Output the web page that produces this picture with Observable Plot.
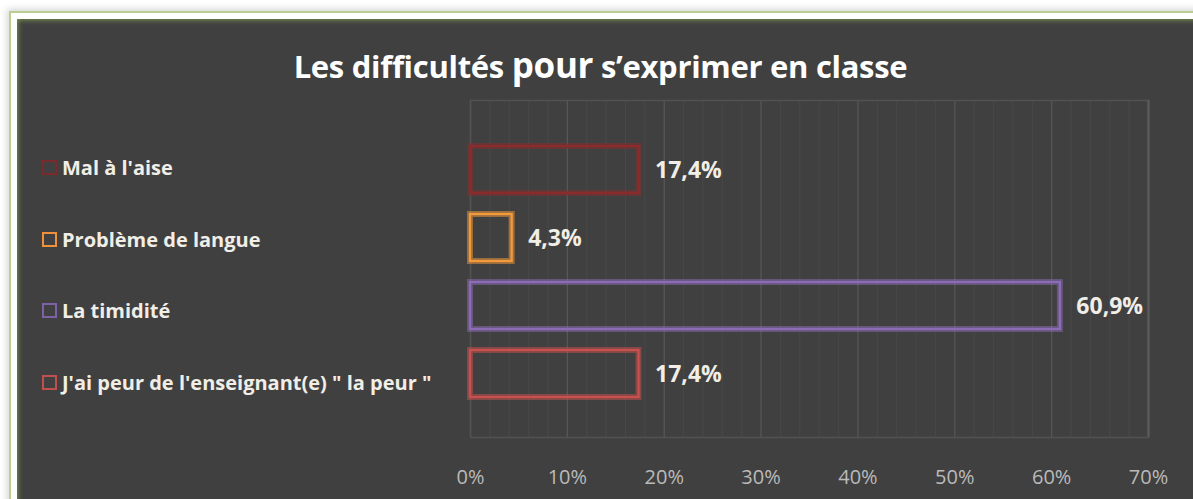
<!DOCTYPE html>
<html><head><meta charset="utf-8">
<script src="https://cdn.jsdelivr.net/npm/d3@7"></script>
<script src="https://cdn.jsdelivr.net/npm/@observablehq/plot@0.6"></script>
<style>
html,body{margin:0;padding:0;background:#fff;overflow:hidden;}
#page{position:relative;width:1193px;height:499px;overflow:hidden;background:#fff;}
#frame{position:absolute;left:11px;top:13px;width:1200px;height:520px;background:#404040;border:6px solid #fff;box-shadow:0 0 0 2px #bccf92,0 0 7px 4px #d6d6d6;}
#inner{position:absolute;left:17px;top:19px;width:1200px;height:520px;box-shadow:inset 0 0 5px 1px #7d9450;}
#title{position:absolute;left:4px;top:45px;width:1193px;text-align:center;font-family:'Open Sans',sans-serif;font-weight:bold;font-size:31px;line-height:40px;color:#fff;white-space:nowrap;letter-spacing:-0.3px;}
#title .big{font-size:35px;}
.leg{position:absolute;left:42px;height:20px;display:flex;align-items:center;font-family:'Open Sans',sans-serif;font-weight:bold;font-size:20px;color:#f0eee6;white-space:nowrap;}
.leg .sw{width:11px;height:11px;border:2px solid;margin-right:5px;flex:none;}
#chart{position:absolute;left:0;top:90px;}
</style></head>
<body><div id="page"><div id="frame"></div><div id="inner"></div>
<div id="title">Les difficultés <span class="big">pour</span> s’exprimer en classe</div>
<div id="legend"></div>
<div id="chart"></div></div>
<script>
const categories = ["Mal à l'aise", "Problème de langue", "La timidité", "J'ai peur de l'enseignant(e) \" la peur \""];
const values = [17.4, 4.3, 60.9, 17.4];
const colors = ["#8a2c2c", "#f39a3b", "#8c6cb6", "#c8504e"];
const legendColors = ["#7a2a2a", "#f0903a", "#7d62a8", "#c0504d"];
const majorTicks = [0, 10, 20, 30, 40, 50, 60, 70];
const minorTicks = [2, 4, 6, 8, 12, 14, 16, 18, 22, 24, 26, 28, 32, 34, 36, 38, 42, 44, 46, 48, 52, 54, 56, 58, 62, 64, 66, 68];

const data = categories.map((c, i) => ({cat: c, value: values[i]}));
const fmt = v => v.toFixed(1).replace(".", ",") + "%";

// legend (HTML)
const leg = document.getElementById("legend");
categories.forEach((c, i) => {
  const d = document.createElement("div");
  d.className = "leg";
  d.style.top = (157.5 + i * 71.5) + "px";
  const sw = document.createElement("span");
  sw.className = "sw";
  sw.style.borderColor = legendColors[i];
  d.appendChild(sw);
  d.appendChild(document.createTextNode(c));
  leg.appendChild(d);
});

const chart = Plot.plot({
  width: 1193, height: 409,
  marginLeft: 470, marginRight: 45, marginTop: 10, marginBottom: 62,
  style: {background: "transparent", overflow: "visible", fontFamily: "'Open Sans', sans-serif", fontSize: "20px", color: "#bababa"},
  x: {domain: [0, 70], ticks: majorTicks, tickFormat: d => d + "%", tickSize: 0, tickPadding: 32, label: null},
  y: {domain: categories, axis: null, paddingInner: 0.312, paddingOuter: 0.622, align: 0.53},
  color: {domain: categories, range: colors},
  marks: [
    Plot.ruleX(minorTicks, {stroke: "#484848", strokeWidth: 1}),
    Plot.ruleX(majorTicks, {stroke: "#565656", strokeWidth: 1.3}),
    Plot.frame({stroke: "#525252", strokeWidth: 1.5}),
    Plot.ruleX([70], {stroke: "#5c5c5c", strokeWidth: 2}),
    Plot.barX(data, {x: "value", y: "cat", fill: "none", stroke: "cat", strokeWidth: 6, strokeOpacity: 0.5, ariaLabel: "glow"}),
    Plot.barX(data, {x: "value", y: "cat", fill: "none", stroke: "cat", strokeWidth: 2.3}),
    Plot.text(data, {x: "value", y: "cat", text: d => fmt(d.value), textAnchor: "start", dx: 16, dy: 1, fill: "#f0eee6", fontWeight: "bold", fontSize: 23, fontFamily: "'Open Sans', sans-serif"})
  ]
});
const g = chart.querySelector('g[aria-label="glow"]');
if (g) g.style.filter = "blur(3px)";
document.getElementById("chart").appendChild(chart);
</script>
</body></html>
